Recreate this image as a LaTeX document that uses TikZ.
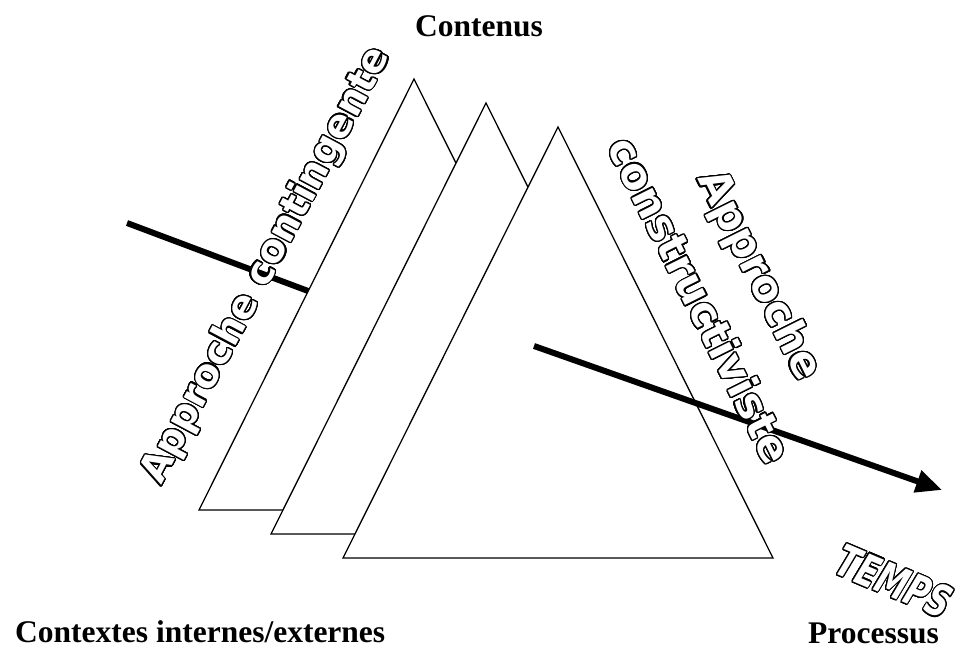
\documentclass[tikz,border=0pt]{standalone}
\usepackage{fontspec}
\setmainfont{Liberation Serif}
\newfontfamily\wordart{DejaVu Sans}
\usepackage{contour}
\contourlength{1.2pt}
\contournumber{32}
\usetikzlibrary{arrows.meta,calc}

\tikzset{
  sheet/.style={draw=black, line width=1.3pt, fill=white, line join=miter},
  thickbar/.style={line width=6pt},
  boldlabel/.style={inner sep=0pt, font=\fontsize{31.5}{36}\selectfont\bfseries},
  hollowword/.style={inner sep=0pt, text=white, font=\wordart\bfseries\fontsize{#1}{#1}\selectfont},
  hollowslant/.style={inner sep=0pt, text=white, font=\wordart\bfseries\itshape\fontsize{#1}{#1}\selectfont},
}
% white letters with a thin black rim
\newcommand{\hollowtext}[1]{\contour{black}{#1}}

\begin{document}
\begin{tikzpicture}[x=1pt,y=-1pt]
\useasboundingbox (0,0) rectangle (967,648);

% corners of the three sheets (apex, base left, base right)
\coordinate (a1) at (414,79);  \coordinate (l1) at (199,510); \coordinate (r1) at (629,510);
\coordinate (a2) at (486,103); \coordinate (l2) at (271,534); \coordinate (r2) at (701,534);
\coordinate (a3) at (558,127); \coordinate (l3) at (343,558); \coordinate (r3) at (773,558);

% time axis entering behind the first sheet
\coordinate (tin) at (127,223);
\draw[thickbar] (tin) -- ($(a1)!0.492!(l1)$);

% stacked sheets, back to front
\draw[sheet] (a1) -- (r1) -- (l1) -- cycle;
\draw[sheet] (a2) -- (r2) -- (l2) -- cycle;
\draw[sheet] (a3) -- (r3) -- (l3) -- cycle;

% time axis leaving the front sheet
\coordinate (tstart) at (534,346);
\coordinate (tend) at (942,490);
\draw[thickbar, -{Triangle[length=26pt,width=22pt]}] (tstart) -- (tend);

% corner captions
\node[boldlabel, anchor=base] (contenus) at (479,36) {Contenus};
\node[boldlabel, anchor=base west] (contextes) at (15,642) {Contextes internes/externes};
\node[boldlabel, anchor=base east] (processus) at (939,643) {Processus};

% outlined approach names
\node[hollowword=39, rotate=62] (contingente) at (267,266) {\hollowtext{Approche contingente}};
\node[hollowword=42.5, rotate=-63.5] (approche) at (758,276) {\hollowtext{Approche}};
\node[hollowword=42.5, rotate=-63.5] (constructiviste) at (700,300) {\hollowtext{constructiviste}};
\node[hollowslant=44, rotate=-23] (temps) at (894,582) {\scalebox{0.72}[1]{\hollowtext{TEMPS}}};
\end{tikzpicture}
\end{document}
